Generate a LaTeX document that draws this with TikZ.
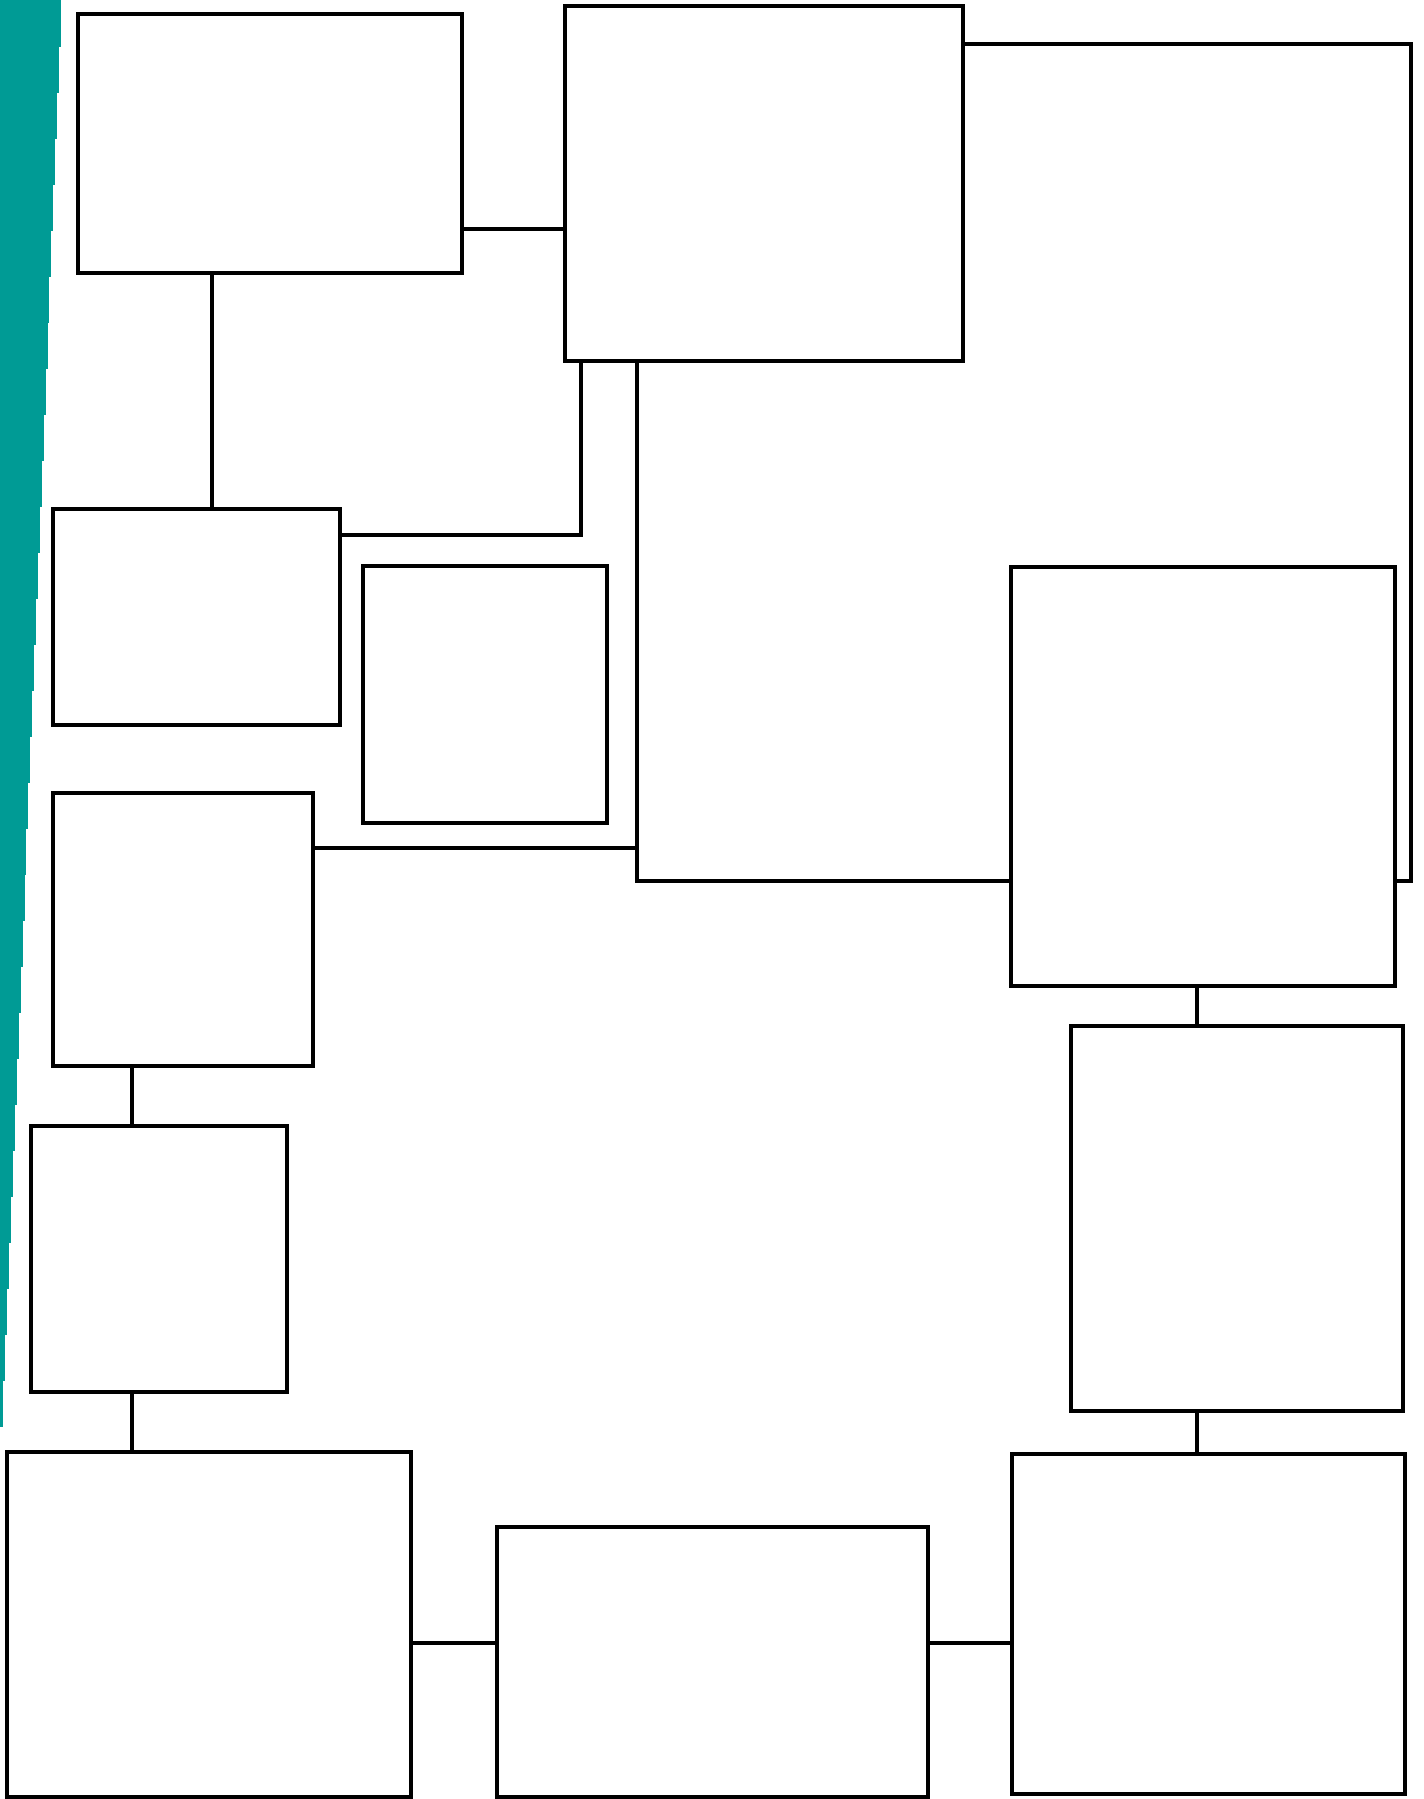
\documentclass[tikz,border=0pt]{standalone}
\usetikzlibrary{calc}
\definecolor{stripe}{HTML}{009B95}
\begin{document}
\begin{tikzpicture}[x=1pt,y=-1pt,
  box/.style={draw=black,line width=3.3pt,fill=white,inner sep=0pt,rectangle},
  link/.style={draw=black,line width=3.3pt}]
\useasboundingbox (0,0) rectangle (1424,1799);
\fill[white] (0,0) rectangle (1424,1799);
% teal stripe (stepped taper)
\foreach \i in {0,...,30}{
  \fill[stripe] (0,{46*\i}) rectangle ({61-1.92*\i},{46*(\i+1)+0.5});
}
% boxes
\node[box,minimum width=384pt,minimum height=259pt] (A) at (270,143.5) {};
\node[box,minimum width=398pt,minimum height=355pt] (B) at (764,183.5) {};
\node[box,minimum width=287pt,minimum height=216pt] (C) at (196.5,617) {};
\node[box,minimum width=244pt,minimum height=257pt] (D) at (485,694.5) {};
\node[box,minimum width=384pt,minimum height=419pt] (E) at (1203,776.5) {};
\node[box,minimum width=260pt,minimum height=273pt] (F) at (183,929.5) {};
\node[box,minimum width=332pt,minimum height=385pt] (G) at (1237,1218.5) {};
\node[box,minimum width=256pt,minimum height=266pt] (H) at (159,1259) {};
\node[box,minimum width=404pt,minimum height=345pt] (I) at (209,1624.5) {};
\node[box,minimum width=431pt,minimum height=270pt] (J) at (712.5,1662) {};
\node[box,minimum width=393pt,minimum height=340pt] (K) at (1208.5,1624) {};
% connectors
\coordinate (jf) at (637,848);
\coordinate (rc) at (1411,881);
\draw[link] (A.east |- 0,229) -- (B.west |- 0,229);
\draw[link] (A.south -| 212,0) -- (C.north -| 212,0);
\draw[link] (C.east |- 0,535) -| (B.south -| 581,0);
\draw[link] (B.south -| 637,0) |- (E.west |- 0,881);
\draw[link] (F.east |- jf) -- (jf);
\draw[link] (B.east |- 0,44) -| (rc) -- (E.east |- rc);
\draw[link] (E.south -| 1197,0) -- (G.north -| 1197,0);
\draw[link] (G.south -| 1197,0) -- (K.north -| 1197,0);
\draw[link] (F.south -| 132,0) -- (H.north -| 132,0);
\draw[link] (H.south -| 132,0) -- (I.north -| 132,0);
\draw[link] (I.east |- 0,1643) -- (J.west |- 0,1643);
\draw[link] (J.east |- 0,1643) -- (K.west |- 0,1643);
\end{tikzpicture}
\end{document}
